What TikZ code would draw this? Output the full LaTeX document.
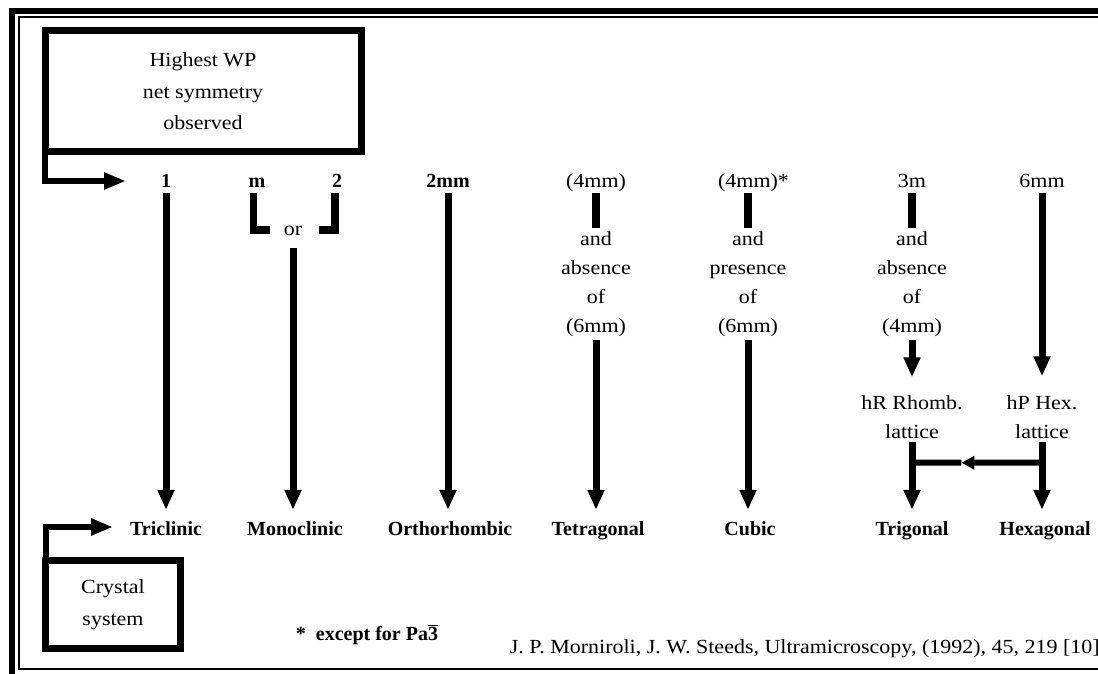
\documentclass[tikz,border=0pt]{standalone}
\usepackage{fontspec}
\setmainfont{Liberation Serif}
\newfontfamily\wpplain{Liberation Serif}[FakeStretch=1.1]
\usetikzlibrary{arrows.meta,calc}
\newcommand{\wpfont}{\fontsize{20}{29}\selectfont}

\begin{document}
\begin{tikzpicture}[x=1pt, y=-1pt,
    wpbox/.style={draw, line width=7pt, outer sep=0pt, align=center, font=\wpplain\fontsize{20}{31.5}\selectfont},
    sym/.style={font=\wpfont\bfseries, inner sep=2pt, text height=14pt, text depth=4pt},
    symr/.style={sym, font=\wpplain\wpfont},
    sys/.style={font=\wpfont\bfseries, inner xsep=2pt, inner ysep=11pt, text height=14pt, text depth=4pt},
    cond/.style={font=\wpplain\wpfont, align=center, inner sep=3pt},
    arr/.style={-{Triangle[length=20pt,width=16pt]}, line width=7pt},
    inarr/.style={-{Triangle[length=22pt,width=16pt]}, line width=6pt},
    stub/.style={line width=7.5pt}
  ]
  \useasboundingbox (0,0) rectangle (1098,674);
  \draw[line width=6pt] (12,674) -- (12,11) -- (1098,11);
  \draw[line width=2pt] (1098,17) -- (19,17) -- (19,669) -- (1098,669);

  \node[wpbox, minimum width=316pt, minimum height=121pt] (wp) at (203,91.5) {Highest WP\\net symmetry\\observed};
  \node[wpbox, minimum width=135pt, minimum height=88pt] (cs) at (113,604.5) {Crystal\\system};
  \coordinate (wpin) at (126,181);
  \coordinate (csin) at (113,527);
  \draw[inarr] (wp.south west) -- (wp.south west |- wpin) -- (wpin);
  \draw[inarr] (cs.north west) -- (cs.north west |- csin) -- (csin);

  \node[sym] (n1) at (166,182) {1};
  \node[sym] (nm) at (257,182) {m};
  \node[sym] (n2) at (337,182) {2};
  \node[sym] (n2mm) at (448,182) {2mm};
  \node[symr] (n4mm) at (596,182) {(4mm)};
  \node[symr] (n4mms) at (748,182) {(4mm)\rlap{*}};
  \node[symr] (n3m) at (912,182) {3m};
  \node[symr] (n6mm) at (1042,182) {6mm};

  \node[symr] (or) at (293,230) {or};
  \node[cond] (c4) at (596,284) {and\\absence\\of\\(6mm)};
  \node[cond] (cc) at (748,284) {and\\presence\\of\\(6mm)};
  \node[cond] (c3) at (912,284) {and\\absence\\of\\(4mm)};
  \node[cond] (hr) at (912,417) {hR Rhomb.\\lattice};
  \node[cond] (hp) at (1042,417) {hP Hex.\\lattice};

  \node[sys] (tri) at (166,530) {Triclinic};
  \node[sys] (mono) at (295,530) {Monoclinic};
  \node[sys] (ortho) at (450,530) {Orthorhombic};
  \node[sys] (tetra) at (598,530) {Tetragonal};
  \node[sys] (cubic) at (750,530) {Cubic};
  \node[sys] (trig) at (912,530) {Trigonal};
  \node[sys] (hexa) at (1045,530) {Hexagonal};

  \draw[stub] ([xshift=-3.5pt]nm.south) |- ([xshift=-12pt]or.west);
  \draw[stub] ([xshift=-2pt]n2.south) |- ([xshift=15pt]or.east);
  \draw[stub] (n4mm.south) -- (c4.north);
  \draw[stub] (n4mms.south) -- (cc.north);
  \draw[stub] (n3m.south) -- (c3.north);

  \draw[arr] (n1.south) -- (n1.south |- tri.north);
  \draw[arr, shorten <=7pt] (or.south) -- (or.south |- mono.north);
  \draw[arr] (n2mm.south) -- (n2mm.south |- ortho.north);
  \draw[arr] (c4.south) -- (c4.south |- tetra.north);
  \draw[arr] (cc.south) -- (cc.south |- cubic.north);
  \draw[arr, shorten >=15pt] (c3.south) -- (hr.north);
  \draw[arr, shorten >=16pt] (n6mm.south) -- (hp.north);
  \draw[arr] (hr.south) -- (hr.south |- trig.north);
  \draw[arr] (hp.south) -- (hp.south |- hexa.north);

  \path (hp.south) ++(0,21) coordinate (hpbar);
  \path (hr.south) ++(0,21) coordinate (hrbar);
  \draw[-{Triangle[length=13pt,width=13pt]}, line width=6pt] (hpbar) -- ($(hpbar)!0.62!(hrbar)$) coordinate (barmid);
  \draw[line width=6pt] (barmid) -- (hrbar);

  \node[font=\wpfont\bfseries, anchor=base] (note) at (367,640) {*\ \ except for Pa$\overline{\mbox{3}}$};
  \node[font=\wpplain\wpfont, anchor=base east, inner sep=0pt] (cite) at (1100,653) {J. P. Morniroli, J. W. Steeds, Ultramicroscopy, (1992), 45, 219 [10]};
\end{tikzpicture}
\end{document}
